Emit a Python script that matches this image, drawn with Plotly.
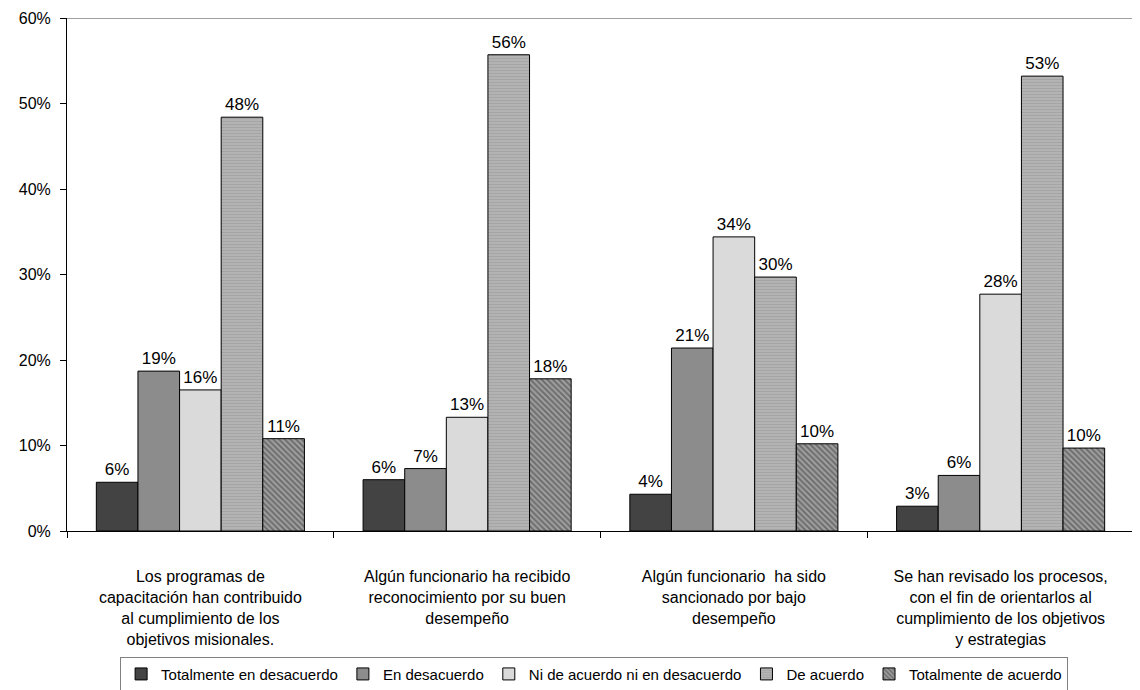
"""Gráfico de barras agrupadas: percepción sobre capacitación y desempeño."""

import plotly.graph_objects as go

# Categorías (eje X)
categorias = [
    "Los programas de<br>capacitación han contribuido<br>al cumplimiento de los<br>objetivos misionales.",
    "Algún funcionario ha recibido<br>reconocimiento por su buen<br>desempeño",
    "Algún funcionario  ha sido<br>sancionado por bajo<br>desempeño",
    "Se han revisado los procesos,<br>con el fin de orientarlos al<br>cumplimiento de los objetivos<br>y estrategias",
]

# Series (porcentajes)
totalmente_desacuerdo = [5.7, 6.0, 4.3, 2.9]
en_desacuerdo = [18.7, 7.3, 21.4, 6.5]
ni_acuerdo_ni_desacuerdo = [16.5, 13.3, 34.4, 27.7]
de_acuerdo = [48.4, 55.7, 29.7, 53.2]
totalmente_acuerdo = [10.8, 17.8, 10.2, 9.7]

etiquetas_totalmente_desacuerdo = ["6%", "6%", "4%", "3%"]
etiquetas_en_desacuerdo = ["19%", "7%", "21%", "6%"]
etiquetas_ni_acuerdo = ["16%", "13%", "34%", "28%"]
etiquetas_de_acuerdo = ["48%", "56%", "30%", "53%"]
etiquetas_totalmente_acuerdo = ["11%", "18%", "10%", "10%"]

Y_MAX = 60
FONT = "Liberation Sans, Arial, sans-serif"

series = [
    ("Totalmente en desacuerdo", totalmente_desacuerdo,
     etiquetas_totalmente_desacuerdo,
     {"color": "#434343"}),
    ("En desacuerdo", en_desacuerdo, etiquetas_en_desacuerdo,
     {"color": "#8c8c8c"}),
    ("Ni de acuerdo ni en desacuerdo", ni_acuerdo_ni_desacuerdo,
     etiquetas_ni_acuerdo,
     {"color": "#dadada"}),
    ("De acuerdo", de_acuerdo, etiquetas_de_acuerdo,
     {"color": "#a8a8a8",
      "pattern": {"shape": "-", "fgcolor": "#969696", "bgcolor": "#b4b4b4",
                  "size": 3, "solidity": 0.4}}),
    ("Totalmente de acuerdo", totalmente_acuerdo,
     etiquetas_totalmente_acuerdo,
     {"color": "#6e6e6e",
      "pattern": {"shape": "\\", "fgcolor": "#3a3a3a", "bgcolor": "#a0a0a0",
                  "size": 4, "solidity": 0.5}}),
]

fig = go.Figure()

for nombre, valores, etiquetas, marcador in series:
    fig.add_trace(go.Bar(
        name=nombre,
        x=categorias,
        y=valores,
        text=etiquetas,
        textposition="outside",
        textfont={"size": 17, "color": "#000000", "family": FONT},
        constraintext="none",
        cliponaxis=False,
        marker={**marcador, "line": {"color": "#000000", "width": 1}},
    ))

# la página deja 8 px de margen en body: la figura ocupa 1132x682
fig.update_layout(
    width=1132,
    height=682,
    barmode="group",
    bargap=0.22,
    bargroupgap=0,
    plot_bgcolor="#ffffff",
    paper_bgcolor="#ffffff",
    font={"family": FONT, "size": 16, "color": "#000000"},
    margin={"l": 59, "r": 6, "t": 10, "b": 159, "autoexpand": False},
    legend={
        "orientation": "h",
        "x": 0.494,
        "xanchor": "center",
        "y": -0.245,
        "yanchor": "top",
        "font": {"size": 15, "family": FONT},
        "bordercolor": "#808080",
        "borderwidth": 1,
        "itemwidth": 30,
        "tracegroupgap": 0,
    },
    shapes=[{
        "type": "line",
        "xref": "paper",
        "yref": "y",
        "x0": 0,
        "x1": 1,
        "y0": Y_MAX,
        "y1": Y_MAX,
        "line": {"color": "#808080", "width": 1.5},
        "layer": "below",
    }],
)

fig.update_xaxes(
    showline=True,
    linecolor="#000000",
    linewidth=1,
    ticks="outside",
    tickson="boundaries",
    ticklen=6,
    tickcolor="#000000",
    tickfont={"size": 16},
    ticklabelstandoff=31,
    showgrid=False,
    automargin=False,
)

fig.update_yaxes(
    range=[0, Y_MAX],
    dtick=10,
    ticksuffix="%",
    showline=True,
    linecolor="#000000",
    linewidth=1,
    ticks="outside",
    ticklen=6,
    tickcolor="#000000",
    tickfont={"size": 16},
    ticklabelstandoff=6,
    ticklabeloverflow="allow",
    showgrid=False,
    zeroline=False,
    automargin=False,
)

fig.write_html("out.html")
